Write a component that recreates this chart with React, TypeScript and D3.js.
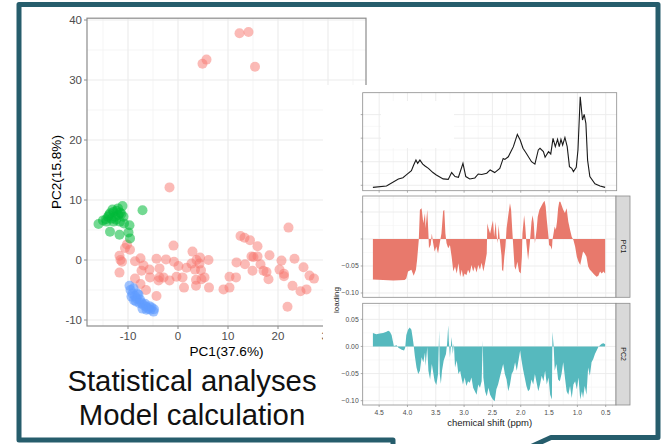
import React from 'react'
import * as d3 from 'd3'

const W = 663
const H = 444

// PCA scores (PC1, PC2) per group
const scoresRed: [number, number][] = [
  [-1.7, 12.1], [4.9, 32.7], [5.7, 33.4], [12.3, 37.8], [14.1, 38.0], [15.4, 32.2],
  [22.1, 5.4], [12.5, 4.0], [13.3, 3.7], [14.4, 3.3], [15.9, 2.3], [-0.9, 2.4], [2.9, 1.4],
  [-10.6, 2.0], [-9.6, 1.7], [-10.2, 2.6],
  [-11.7, 0.7], [-11.5, 0.0], [-11.2, -0.3], [-11.7, -2.1],
  [-8.6, -0.2], [-7.5, 0.3], [-6.9, -0.9], [-7.3, -1.8], [-8.6, -3.1], [-7.5, -4.0], [-6.4, -5.0], [-4.3, -6.0],
  [-5.7, -1.6], [-5.6, -2.9], [-4.3, 0.2], [-3.7, -1.4], [-3.7, -2.9], [-3.9, -3.4], [-2.9, -2.9], [-2.4, 0.1], [-1.7, -3.4],
  [-0.8, -0.3], [-0.3, -2.8], [0.1, -1.0], [0.9, -2.9], [1.2, -4.6], [1.7, -1.3], [2.7, -0.6], [3.4, -1.6], [3.7, 0.0],
  [4.3, -0.6], [4.6, -1.7], [3.6, -3.3], [3.6, -4.3], [4.7, -3.2], [5.3, -2.9], [6.1, 0.0], [6.2, -4.6], [4.4, 0.4],
  [9.1, -4.9], [10.3, -4.6], [10.3, -2.8], [11.6, -2.9], [11.7, -0.4], [13.4, -0.7], [14.9, -1.8], [14.7, 0.6],
  [15.1, 0.5], [15.9, 0.6], [16.5, -0.7], [17.1, -1.8], [17.7, -2.0], [18.1, -3.2], [18.3, 0.8],
  [20.3, -1.6], [20.7, -0.1], [21.2, -2.7], [21.2, -2.3], [23.3, 0.2], [25.1, -1.2], [26.3, -2.6], [27.2, -3.1],
  [22.9, -4.3], [24.5, -5.2], [25.7, -4.9], [21.9, -7.8],
]
const scoresGreen: [number, number][] = [
  [-15.9, 6.0], [-14.4, 6.8], [-13.6, 4.7], [-11.7, 4.2], [-11.1, 9.0], [-7.1, 8.3], [-9.7, 5.8],
  [-9.9, 4.6], [-9.6, 3.6], [-13.6, 7.8], [-12.9, 8.0], [-12.3, 8.2], [-11.6, 7.9], [-12.6, 7.2],
  [-13.3, 6.9], [-14.0, 7.2], [-11.9, 7.5], [-11.3, 7.7], [-10.9, 7.2], [-12.4, 6.7], [-12.9, 6.4],
  [-11.6, 6.4], [-10.8, 6.1], [-14.3, 6.4], [-15.0, 6.6], [-13.1, 8.4], [-12.0, 8.6], [-13.8, 7.5],
]
const scoresBlue: [number, number][] = [
  [-9.7, -4.3], [-9.5, -5.0], [-9.1, -5.6], [-8.6, -6.0], [-8.3, -6.4], [-8.8, -6.7], [-7.9, -5.8],
  [-7.6, -6.6], [-7.3, -7.1], [-6.9, -7.5], [-6.4, -7.8], [-5.9, -8.1], [-5.5, -8.3], [-4.9, -8.6],
  [-6.3, -8.3], [-5.3, -7.9], [-7.7, -7.2], [-8.4, -6.9], [-9.3, -6.1], [-8.1, -5.6], [-6.6, -7.3],
  [-5.7, -7.7], [-4.8, -8.2], [-7.1, -8.1], [-8.9, -4.7],
]
const pc1Ticks = [-10, 0, 10, 20, 30]
const pc2Ticks = [-10, 0, 10, 20, 30, 40]

// mean spectrum
const specPpm = [
  4.61, 4.37, 4.16, 4.08, 4.02, 3.93, 3.89, 3.85, 3.82, 3.78, 3.73, 3.69, 3.63, 3.55, 3.49, 3.37, 3.28, 3.22,
  3.16, 3.10, 3.02, 2.97, 2.90, 2.81, 2.75, 2.69, 2.60, 2.54, 2.46, 2.37, 2.31, 2.28, 2.22, 2.13, 2.06, 2.01,
  1.96, 1.90, 1.81, 1.75, 1.69, 1.66, 1.60, 1.57, 1.51, 1.47, 1.43, 1.39, 1.35, 1.32, 1.29, 1.26, 1.22, 1.18,
  1.14, 1.10, 1.07, 1.02, 0.99, 0.95, 0.91, 0.88, 0.85, 0.82, 0.78, 0.69, 0.60, 0.51,
]
const specIntensity = [
  -0.09, -0.03, 0.27, 0.32, 0.44, 0.62, 0.86, 1.07, 0.93, 1.07, 0.9, 0.82, 0.72, 0.54, 0.44, 0.27, 0.25, 0.54,
  0.37, 0.34, 0.93, 0.37, 0.27, 0.31, 0.48, 0.46, 0.51, 0.65, 0.54, 0.72, 1.14, 1.1, 1.21, 1.64, 2.16, 1.92,
  1.57, 1.35, 1.0, 0.9, 1.5, 1.57, 1.43, 1.19, 1.43, 1.33, 1.99, 1.64, 1.95, 1.64, 1.95, 1.71, 2.03, 1.64,
  0.79, 0.72, 0.58, 0.76, 1.5, 3.76, 2.77, 3.01, 2.63, 1.07, 0.37, 0.06, -0.03, -0.09,
]
const specTicks = [0, 1, 2, 3]

// loadings
const pc1Ppm = [
  4.61, 4.43, 4.25, 4.05, 4.02, 3.99, 3.93, 3.89, 3.85, 3.83, 3.80, 3.78, 3.75, 3.72, 3.69, 3.68, 3.65, 3.63,
  3.62, 3.59, 3.57, 3.55, 3.52, 3.49, 3.46, 3.43, 3.40, 3.37, 3.35, 3.33, 3.31, 3.28, 3.25, 3.22, 3.19, 3.16,
  3.13, 3.10, 3.07, 3.04, 3.02, 2.99, 2.96, 2.93, 2.90, 2.87, 2.84, 2.81, 2.78, 2.75, 2.72, 2.69, 2.66, 2.63,
  2.60, 2.59, 2.57, 2.54, 2.51, 2.49, 2.47, 2.44, 2.43, 2.41, 2.39, 2.37, 2.34, 2.33, 2.31, 2.29, 2.27, 2.25,
  2.22, 2.19, 2.17, 2.15, 2.13, 2.11, 2.09, 2.06, 2.03, 2.00, 1.98, 1.97, 1.94, 1.92, 1.90, 1.87, 1.84, 1.81,
  1.79, 1.77, 1.75, 1.72, 1.70, 1.67, 1.64, 1.61, 1.58, 1.56, 1.54, 1.51, 1.50, 1.47, 1.45, 1.44, 1.41, 1.40,
  1.38, 1.36, 1.34, 1.32, 1.30, 1.28, 1.25, 1.22, 1.19, 1.16, 1.13, 1.10, 1.07, 1.04, 1.01, 0.98, 0.95, 0.92,
  0.90, 0.87, 0.84, 0.81, 0.78, 0.75, 0.72, 0.69, 0.66, 0.63, 0.60, 0.57, 0.54, 0.51,
]
const pc1Loading = [
  -0.075, -0.076, -0.077, -0.076, -0.073, -0.06, -0.057, -0.068, -0.057, -0.039, -0.002, 0.054, 0.057, 0.029,
  0.048, 0.02, 0.054, 0.01, -0.017, -0.011, 0.01, -0.005, -0.023, -0.014, -0.027, -0.008, 0.01, 0.052, 0.054,
  0.01, -0.008, -0.017, -0.011, -0.033, -0.06, -0.051, -0.064, -0.045, -0.07, -0.057, -0.071, -0.064, -0.067,
  -0.057, -0.064, -0.048, -0.06, -0.051, -0.062, -0.048, -0.057, -0.044, -0.06, -0.045, -0.027, 0.029, 0.02,
  0.01, 0.026, 0.034, 0.004, 0.032, 0.01, -0.008, 0.026, -0.002, -0.03, -0.057, -0.06, -0.033, -0.014, 0.02,
  0.044, 0.066, 0.054, 0.017, -0.017, -0.051, -0.057, -0.042, -0.06, -0.064, -0.033, 0.01, 0.044, 0.023,
  -0.008, -0.039, -0.008, 0.032, 0.044, 0.029, -0.008, 0.017, 0.041, 0.054, 0.06, 0.066, 0.071, 0.06, 0.035,
  0.004, -0.011, -0.014, -0.02, -0.002, 0.017, 0.023, 0.017, 0.032, 0.057, 0.069, 0.069, 0.063, 0.054, 0.048,
  0.057, 0.032, 0.017, 0.004, -0.002, -0.014, -0.033, -0.042, -0.048, -0.033, -0.023, -0.027, -0.033, -0.051,
  -0.057, -0.06, -0.064, -0.067, -0.07, -0.068, -0.06, -0.064, -0.06, -0.064,
]
const pc2Ppm = [
  4.61, 4.55, 4.49, 4.43, 4.37, 4.34, 4.31, 4.28, 4.26, 4.24, 4.19, 4.16, 4.10, 4.06, 4.04, 4.02, 3.99, 3.96,
  3.93, 3.91, 3.89, 3.87, 3.84, 3.81, 3.78, 3.75, 3.72, 3.69, 3.68, 3.65, 3.63, 3.60, 3.57, 3.55, 3.52, 3.49,
  3.46, 3.44, 3.43, 3.41, 3.39, 3.36, 3.32, 3.30, 3.28, 3.27, 3.25, 3.22, 3.20, 3.18, 3.16, 3.13, 3.10, 3.07,
  3.04, 3.02, 2.99, 2.96, 2.93, 2.90, 2.87, 2.84, 2.81, 2.78, 2.75, 2.72, 2.69, 2.67, 2.66, 2.63, 2.60, 2.57,
  2.54, 2.51, 2.49, 2.46, 2.43, 2.40, 2.37, 2.34, 2.31, 2.28, 2.25, 2.22, 2.19, 2.16, 2.13, 2.10, 2.07, 2.04,
  2.01, 1.99, 1.96, 1.93, 1.90, 1.87, 1.84, 1.81, 1.78, 1.75, 1.72, 1.69, 1.66, 1.63, 1.60, 1.57, 1.54, 1.51,
  1.48, 1.45, 1.44, 1.42, 1.40, 1.37, 1.34, 1.31, 1.28, 1.25, 1.22, 1.19, 1.16, 1.13, 1.10, 1.07, 1.04, 1.01,
  0.98, 0.95, 0.92, 0.90, 0.87, 0.84, 0.81, 0.78, 0.75, 0.72, 0.69, 0.66, 0.63, 0.60, 0.57, 0.54, 0.51,
]
const pc2Loading = [
  0.025, 0.0225, 0.024, 0.025, 0.027, 0.029, 0.027, 0.021, 0.011, 0.001, 0.002, -0.0025, -0.006, -0.0075,
  -0.0025, 0.021, 0.031, 0.035, 0.031, 0.0175, 0.002, -0.017, -0.039, -0.051, -0.045, -0.02, -0.029, -0.011,
  -0.036, -0.001, -0.045, -0.061, -0.0325, -0.045, -0.064, -0.071, -0.051, 0.03, -0.051, -0.069, -0.045,
  -0.026, -0.014, 0.005, 0.039, 0.011, -0.02, 0.0175, -0.014, 0.005, -0.039, -0.026, -0.051, -0.045, -0.061,
  -0.07, -0.0575, -0.073, -0.064, -0.067, -0.0575, -0.076, -0.0825, -0.089, -0.07, -0.076, -0.064, 0.011,
  -0.0575, -0.0825, -0.092, -0.076, -0.089, -0.095, -0.098, -0.101, -0.079, -0.07, -0.0575, -0.045, -0.0325,
  -0.051, -0.061, -0.0825, -0.07, -0.051, -0.045, -0.029, -0.045, -0.026, -0.0075, -0.023, -0.042, -0.0575,
  -0.073, -0.0825, -0.079, -0.061, -0.07, -0.051, -0.067, -0.0825, -0.07, -0.054, -0.064, -0.045, -0.07,
  -0.0575, -0.089, -0.098, 0.027, 0.002, -0.045, -0.0325, -0.061, -0.064, -0.051, -0.029, -0.0575, -0.0825,
  -0.089, -0.073, -0.095, -0.07, -0.064, -0.079, -0.0575, -0.098, -0.0825, -0.095, -0.073, -0.089, -0.039,
  -0.054, -0.029, -0.023, -0.014, -0.0075, -0.001, 0.002, 0.005, 0.006, 0.004,
]
const shiftTicks = [4.5, 4.0, 3.5, 3.0, 2.5, 2.0, 1.5, 1.0, 0.5]
const loadingTicks = [0.05, 0, -0.05, -0.1]

const FONT = '"Liberation Sans", Arial, Helvetica, sans-serif'
const GRID = '#ebebeb'
const GRID_MINOR = '#f3f3f3'
const BORDER = '#8c8c8c'
const TICK_TEXT = '#4d4d4d'

// midpoints between major ticks, for ggplot-like minor grid
const midpoints = (t: number[]) => t.slice(1).map((v, i) => (v + t[i]) / 2)

function LoadingPanel({ sx, ppm, values, top, bottom, fill, strip, showLabels }: any) {
  const left = 362.7
  const right = 616
  const ly = d3.scaleLinear().domain([-0.108, 0.0796]).range([bottom, top])
  const area = d3
    .area<number>()
    .x((_, i) => sx(ppm[i]))
    .y0(ly(0))
    .y1((d) => ly(d))
  const minorY = midpoints(loadingTicks).concat([0.075])
  const minorX = midpoints(shiftTicks)
  const fmt = d3.format('.2f')
  return (
    <g>
      <rect x={left} y={top} width={right - left} height={bottom - top} fill="#fff" />
      {minorY.map((v) => (
        <line key={'my' + v} x1={left} x2={right} y1={ly(v)} y2={ly(v)} stroke={GRID_MINOR} strokeWidth={0.6} />
      ))}
      {minorX.map((v) => (
        <line key={'mx' + v} x1={sx(v)} x2={sx(v)} y1={top} y2={bottom} stroke={GRID_MINOR} strokeWidth={0.6} />
      ))}
      {loadingTicks.map((v) => (
        <line key={'gy' + v} x1={left} x2={right} y1={ly(v)} y2={ly(v)} stroke={GRID} strokeWidth={0.9} />
      ))}
      {shiftTicks.map((v) => (
        <line key={'gx' + v} x1={sx(v)} x2={sx(v)} y1={top} y2={bottom} stroke={GRID} strokeWidth={0.9} />
      ))}
      <path d={area(values) || ''} fill={fill} />
      <rect x={left} y={top} width={right - left} height={bottom - top} fill="none" stroke={BORDER} strokeWidth={0.8} />
      {loadingTicks.map((v) => (
        <g key={'t' + v}>
          <line x1={left - 2} x2={left} y1={ly(v)} y2={ly(v)} stroke={BORDER} strokeWidth={0.7} />
          {showLabels.includes(v) && (
            <text x={left - 4} y={ly(v)} dy="0.35em" textAnchor="end" fontSize={6.8} fill={TICK_TEXT}>
              {fmt(v)}
            </text>
          )}
        </g>
      ))}
      <rect x={right} y={top} width={14} height={bottom - top} fill="#d9d9d9" stroke={BORDER} strokeWidth={0.8} />
      <text
        transform={`translate(${right + 7},${(top + bottom) / 2}) rotate(90)`}
        textAnchor="middle"
        dy="0.35em"
        fontSize={7}
        fill="#1a1a1a"
      >
        {strip}
      </text>
    </g>
  )
}

export default function App() {
  // score plot scales
  const x = d3.scaleLinear().domain([-18.2, 37.6]).range([87, 366])
  const y = d3.scaleLinear().domain([-11, 40.3]).range([326, 18.2])
  const [px0, px1] = x.range()
  const [py0, py1] = y.range()

  // spectrum scales
  const sx = d3.scaleLinear().domain([4.79, 0.306]).range([362.7, 616.7])
  const sy = d3.scaleLinear().domain([-0.23, 3.93]).range([190.7, 92.7])
  const specLine = d3
    .line<number>()
    .x((_, i) => sx(specPpm[i]))
    .y((d) => sy(d))

  const pcaMinorX = midpoints(pc1Ticks).concat([-15, 35])
  const pcaMinorY = midpoints(pc2Ticks)
  const specMinorY = midpoints(specTicks)

  const groups: [string, [number, number][], number][] = [
    ['#F8766D', scoresRed, 0.5],
    ['#00BA38', scoresGreen, 0.55],
    ['#619CFF', scoresBlue, 0.6],
  ]

  return (
    <svg
      width={W}
      height={H}
      style={{ position: 'absolute', left: 0, top: 0, background: '#fff' }}
      fontFamily={FONT}
    >
      <rect width={W} height={H} fill="#fff" />

      {/* score plot */}
      <g>
        {pcaMinorX.map((v) => (
          <line key={'mx' + v} x1={x(v)} x2={x(v)} y1={py1} y2={py0} stroke={GRID_MINOR} strokeWidth={0.8} />
        ))}
        {pcaMinorY.map((v) => (
          <line key={'my' + v} x1={px0} x2={px1} y1={y(v)} y2={y(v)} stroke={GRID_MINOR} strokeWidth={0.8} />
        ))}
        {pc1Ticks.map((v) => (
          <line key={'gx' + v} x1={x(v)} x2={x(v)} y1={py1} y2={py0} stroke={GRID} strokeWidth={1.1} />
        ))}
        {pc2Ticks.map((v) => (
          <line key={'gy' + v} x1={px0} x2={px1} y1={y(v)} y2={y(v)} stroke={GRID} strokeWidth={1.1} />
        ))}
        {groups.map(([color, pts, op]) =>
          pts.map((d, i) => (
            <circle key={color + i} cx={x(d[0])} cy={y(d[1])} r={5} fill={color} fillOpacity={op} />
          ))
        )}
        <rect x={px0} y={py1} width={px1 - px0} height={py0 - py1} fill="none" stroke={BORDER} strokeWidth={1.2} />
        {pc2Ticks.map((v) => (
          <g key={'ty' + v}>
            <line x1={px0 - 3} x2={px0} y1={y(v)} y2={y(v)} stroke={BORDER} strokeWidth={1} />
            <text x={px0 - 5} y={y(v)} dy="0.35em" textAnchor="end" fontSize={11.5} fill={TICK_TEXT}>
              {v}
            </text>
          </g>
        ))}
        {pc1Ticks.map((v) => (
          <g key={'tx' + v}>
            <line x1={x(v)} x2={x(v)} y1={py0} y2={py0 + 3} stroke={BORDER} strokeWidth={1} />
            <text x={x(v)} y={339.5} textAnchor="middle" fontSize={11.5} fill={TICK_TEXT}>
              {v}
            </text>
          </g>
        ))}
        <text x={(px0 + px1) / 2} y={356} textAnchor="middle" fontSize={13.6} fill="#000">
          PC1(37.6%)
        </text>
        <text
          transform={`translate(61,${(py0 + py1) / 2}) rotate(-90)`}
          textAnchor="middle"
          fontSize={13.6}
          fill="#000"
        >
          PC2(15.8%)
        </text>
      </g>

      {/* spectrum + loadings figure */}
      <rect x={323} y={85} width={315} height={347} fill="#fff" />
      <g>
        {specMinorY.map((v) => (
          <line key={'smy' + v} x1={362.7} x2={616.7} y1={sy(v)} y2={sy(v)} stroke={GRID_MINOR} strokeWidth={0.6} />
        ))}
        {midpoints(shiftTicks).map((v) => (
          <line key={'smx' + v} x1={sx(v)} x2={sx(v)} y1={92.7} y2={190.7} stroke={GRID_MINOR} strokeWidth={0.6} />
        ))}
        {specTicks.map((v) => (
          <line key={'sgy' + v} x1={362.7} x2={616.7} y1={sy(v)} y2={sy(v)} stroke={GRID} strokeWidth={0.9} />
        ))}
        {shiftTicks.map((v) => (
          <line key={'sgx' + v} x1={sx(v)} x2={sx(v)} y1={92.7} y2={190.7} stroke={GRID} strokeWidth={0.9} />
        ))}
        <rect x={381} y={101} width={73} height={47} fill="#fff" />
        <path d={specLine(specIntensity) || ''} fill="none" stroke="#1a1a1a" strokeWidth={1.1} />
        <rect x={362.7} y={92.7} width={254} height={98} fill="none" stroke={BORDER} strokeWidth={0.8} />
        {specTicks.map((v) => (
          <line key={'st' + v} x1={360.7} x2={362.7} y1={sy(v)} y2={sy(v)} stroke={BORDER} strokeWidth={0.7} />
        ))}
        {shiftTicks.map((v) => (
          <line key={'stx' + v} x1={sx(v)} x2={sx(v)} y1={190.7} y2={192.7} stroke={BORDER} strokeWidth={0.7} />
        ))}
      </g>

      <LoadingPanel
        sx={sx}
        ppm={pc1Ppm}
        values={pc1Loading}
        top={196}
        bottom={297.3}
        fill="#E8796C"
        strip="PC1"
        showLabels={[-0.05, -0.1]}
      />
      <LoadingPanel
        sx={sx}
        ppm={pc2Ppm}
        values={pc2Loading}
        top={303.3}
        bottom={405}
        fill="#56B9BE"
        strip="PC2"
        showLabels={loadingTicks}
      />
      {shiftTicks.map((v) => (
        <g key={'xt' + v}>
          <line x1={sx(v)} x2={sx(v)} y1={405} y2={407} stroke={BORDER} strokeWidth={0.7} />
          <text x={sx(v)} y={415} textAnchor="middle" fontSize={6.8} fill={TICK_TEXT}>
            {d3.format('.1f')(v)}
          </text>
        </g>
      ))}
      <text x={489.7} y={426} textAnchor="middle" fontSize={9.5} fill="#1a1a1a">
        chemical shift (ppm)
      </text>
      <text transform="translate(339,300) rotate(-90)" textAnchor="middle" fontSize={8} fill="#1a1a1a">
        loading
      </text>

      {/* callout frame */}
      <path
        d="M393,450 L393,440 L19,440 L19,4.5 L658,4.5 L658,437.5 L551,437.5 L528,448"
        fill="none"
        stroke="#265d6c"
        strokeWidth={5}
        strokeLinejoin="round"
        strokeLinecap="round"
      />

      <text x={192} y={391} textAnchor="middle" fontSize={29.3} fill="#111">
        Statistical analyses
      </text>
      <text x={192} y={425} textAnchor="middle" fontSize={29.3} fill="#111">
        Model calculation
      </text>
    </svg>
  )
}
